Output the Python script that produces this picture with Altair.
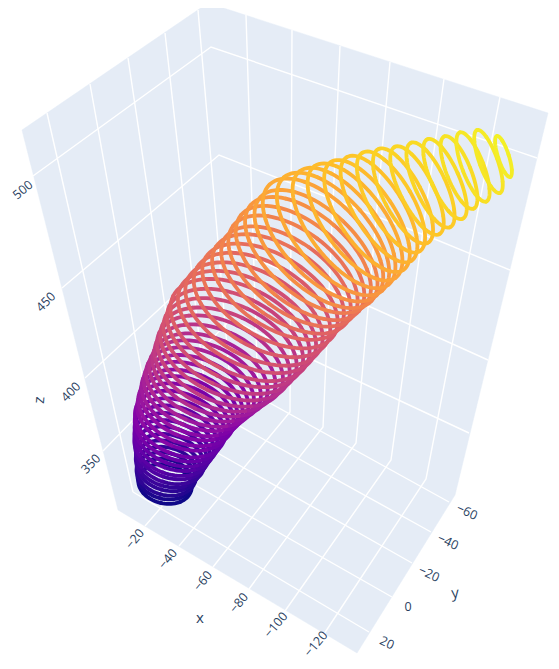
import math
import altair as alt
import pandas as pd

# values, in picture pixels
pane_x = [22, 208, 548, 455, 357, 118, 22]
pane_y = [130, 3, 113, 495, 653, 510, 130]

grid_lines = [
    [(33,176),(211,47),(537,158)],
    [(62,288),(219,155),(437,240),(510,270)],
    [(85,378),(226,247),(373,308),(488,360)],
    [(103,451),(231,319),(313,360),(469,433)],
    [(47,113),(133,492)],
    [(90,84),(158,464)],
    [(128,58),(184,434)],
    [(165,33),(207,408)],
    [(198,10),(230,381)],
    [(246,15),(258,396),(145,526)],
    [(292,30),(290,412),(179,546)],
    [(340,46),(323,427),(213,567)],
    [(390,62),(356,443),(249,589)],
    [(444,79),(391,460),(285,611)],
    [(500,97),(426,479),(324,634)],
    [(133,492),(369,632)],
    [(158,464),(392,597)],
    [(184,434),(412,563)],
    [(207,408),(431,532)],
    [(230,381),(449,502)],
]

label_text = ["500","450","400","350","z",
              "\u221220","\u221240","\u221260","\u221280","\u2212100","\u2212120","x",
              "\u221260","\u221240","\u221220","0","20","y"]
label_x = [23,46,71,91,39, 135,168,203,239,276,316,200, 467,448,429,408,387,455]
label_y = [190,302,392,464,400, 539,559,581,603,625,644,618, 512,542,574,607,643,593]
label_angle = [320,315,315,315,275, 310,310,310,310,310,310,0, 25,25,25,0,25,355]
label_size = [12.5,12.5,12.5,12.5,15, 12.5,12.5,12.5,12.5,12.5,12.5,15, 12.5,12.5,12.5,12.5,12.5,15]

ring_cx = [503.5,488.5,473,459,445,430.5,417,403,391,379,367,355,344,333,323,316,308,300,293,286,278,270,262,254,247,240,235,230,225,220,215,210,205,200,196,192,189,186,183,180,178,176,174,172,171,170,168,167,166,165,165]
ring_cy = [156.5,161.5,167,172.5,179,185,190.5,196,202,209,216,222,228,234,240,249,255,263,271,280,287,296,305,314,322,330,338,346,354,361,368,375,381,387,393,399,405,411,417,424,430,436,442,448,453,459,464,469,474,479,484]
ring_a = [21.5,33.5,37,39,43.5,46.5,49,53,57,61,65,69,72,75,77,76,76,76,75,74,74,75,75,75,75,75,73,71,69,67,64,61,59,57,55,53,51,50,48,47,45,43,41,39,37,35,33,31,30,28,27]
ring_ratio = [.25,.27,.29,.31,.32,.33,.34,.36,.38,.40,.42,.44,.46,.48,.50,.51,.52,.53,.54,.54,.55,.55,.56,.56,.56,.57,.57,.58,.58,.59,.60,.60,.61,.62,.62,.63,.63,.64,.64,.65,.65,.66,.66,.67,.67,.68,.68,.69,.70,.71,.72]
ring_angle = [72,70,69,68,66,65,63,62,60,58,56,54,52,49,46,43,41,39,37,35,33,31,30,29,28,27,26,25,25,25,24,24,24,24,23,23,22,22,22,22,21,21,20,20,19,18,17,16,15,14,13]
ring_cu = [.98,.97,.96,.95,.94,.93,.92,.91,.90,.88,.87,.86,.84,.83,.81,.79,.76,.74,.72,.70,.68,.66,.64,.62,.60,.58,.56,.54,.52,.49,.46,.44,.42,.40,.37,.35,.33,.32,.30,.27,.25,.22,.20,.18,.15,.12,.10,.08,.06,.03,.01]
ring_cl = [.97,.95,.94,.92,.91,.89,.88,.86,.85,.83,.81,.79,.77,.75,.73,.70,.67,.64,.62,.59,.57,.55,.53,.51,.49,.47,.45,.43,.41,.38,.36,.34,.31,.30,.27,.25,.23,.22,.21,.19,.17,.15,.13,.11,.09,.07,.05,.04,.03,.01,.0]

ARCS = 8

def arc_path(ratio, k):
    t0 = 2 * math.pi * k / ARCS
    pts = []
    for i in range(11):
        t = t0 + (2 * math.pi / ARCS) * i / 10
        pts.append(f"{math.cos(t):.4f},{ratio * math.sin(t):.4f}")
    return "M" + "L".join(pts)

ring_rows = []
paths = {}
for i in range(len(ring_cx) - 1, -1, -1):
    for k in [7, 0, 6, 1, 5, 2, 4, 3]:
        key = f"{ring_ratio[i]}-{k}"
        paths[key] = arc_path(ring_ratio[i], k)
        mid = 2 * math.pi * (k + 0.5) / ARCS
        w = (1 - math.cos(mid)) / 2
        ring_rows.append({
            "x": ring_cx[i], "y": ring_cy[i],
            "size": (2 * ring_a[i]) ** 2,
            "angle": ring_angle[i], "shape": key,
            "v": ring_cl[i] + (ring_cu[i] - ring_cl[i]) * w,
        })

xs = alt.Scale(domain=[8, 551], nice=False, zero=False)
ys = alt.Scale(domain=[661, 8], nice=False, zero=False)
X = alt.X("x:Q", scale=xs, axis=None)
Y = alt.Y("y:Q", scale=ys, axis=None)

pane_df = pd.DataFrame({"x": pane_x, "y": pane_y, "o": range(len(pane_x))})
pane = alt.Chart(pane_df).mark_line(fill="#E5ECF6", stroke="#E5ECF6", strokeWidth=0.5).encode(
    x=X, y=Y, order="o:Q")

grid_df = pd.DataFrame([
    {"x": p[0], "y": p[1], "id": i, "o": j}
    for i, line in enumerate(grid_lines) for j, p in enumerate(line)
])
grid = alt.Chart(grid_df).mark_line(color="white", strokeWidth=1.4).encode(
    x=X, y=Y, detail="id:N", order="o:Q")

rings = alt.Chart(pd.DataFrame(ring_rows)).mark_point(
    filled=False, opacity=1, strokeWidth=3.8, strokeCap="round").encode(
    x=X, y=Y,
    size=alt.Size("size:Q", scale=None),
    angle=alt.Angle("angle:Q", scale=None),
    shape=alt.Shape("shape:N", scale=alt.Scale(domain=list(paths.keys()), range=list(paths.values())), legend=None),
    color=alt.Color("v:Q", scale=alt.Scale(scheme="plasma", domain=[0, 1]), legend=None),
)

labels = alt.Chart(pd.DataFrame({"x": label_x, "y": label_y, "t": label_text, "a": label_angle, "s": label_size})).mark_text(
    font="Open Sans", color="#2a3f5f", align="center", baseline="middle").encode(
    x=X, y=Y, text="t:N", angle=alt.Angle("a:Q", scale=None), size=alt.Size("s:Q", scale=None))

chart = (pane + grid + rings + labels).properties(
    width=543, height=653, padding=0, autosize=alt.AutoSizeParams(type="none"),
    background="white").configure_view(stroke=None)

chart.save("out.html", embed_options={"renderer": "svg", "actions": False})
